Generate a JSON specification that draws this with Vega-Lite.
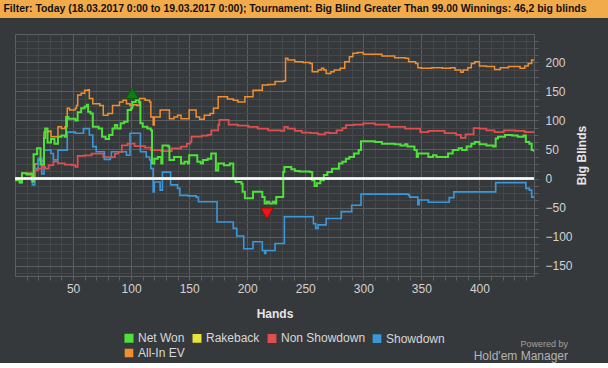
{
  "$schema": "https://vega.github.io/schema/vega-lite/v6.json",
  "background": "#36393c",
  "padding": 0,
  "spacing": 15,
  "config": {"font": "Liberation Sans", "view": {"stroke": null}},
  "vconcat": [
    {
      "width": 608,
      "height": 18,
      "view": {"fill": "#f1ab4b", "stroke": null},
      "data": {"values": [{"t": "Filter: Today (18.03.2017 0:00 to 19.03.2017 0:00); Tournament: Big Blind Greater Than 99.00 Winnings: 46,2 big blinds"}]},
      "mark": {"type": "text", "font": "Liberation Sans", "fontSize": 10.45, "fontWeight": "bold", "color": "#111111", "align": "center", "baseline": "middle", "dx": -9},
      "encoding": {"text": {"field": "t"}}
    },
    {
      "spacing": 12,
      "hconcat": [
        {
          "width": 1,
          "height": 1,
          "data": {"values": []},
          "mark": "point"
        },
        {
          "width": 519,
          "height": 242,
          "view": {"stroke": "#5d6063", "strokeWidth": 1},
          "title": {"text": "Powered by", "subtitle": "Hold'em Manager", "orient": "bottom", "anchor": "end", "frame": "group", "fontSize": 9, "fontWeight": "normal", "color": "#a0a0a0", "subtitleFontSize": 12, "subtitleColor": "#b4b4b4", "subtitlePadding": 2, "offset": 21, "dx": 34},
          "layer": [
            {
              "data": {"values": [
                {"h": 0, "v": 0, "s": "Rakeback"}, {"h": 447, "v": 0, "s": "Rakeback"},
                {"h": 0, "v": 0, "s": "All-In EV"}, {"h": 1, "v": -3, "s": "All-In EV"}, {"h": 4, "v": -7, "s": "All-In EV"}, {"h": 6, "v": 9, "s": "All-In EV"}, {"h": 14, "v": 8, "s": "All-In EV"}, {"h": 15, "v": -5, "s": "All-In EV"}, {"h": 17, "v": 25, "s": "All-In EV"}, {"h": 20, "v": 32, "s": "All-In EV"}, {"h": 23, "v": 30, "s": "All-In EV"}, {"h": 25, "v": 80, "s": "All-In EV"}, {"h": 29, "v": 82, "s": "All-In EV"}, {"h": 31, "v": 72, "s": "All-In EV"}, {"h": 37, "v": 89, "s": "All-In EV"}, {"h": 40, "v": 86, "s": "All-In EV"}, {"h": 43, "v": 89, "s": "All-In EV"}, {"h": 45, "v": 121, "s": "All-In EV"}, {"h": 47, "v": 118, "s": "All-In EV"}, {"h": 52, "v": 121, "s": "All-In EV"}, {"h": 53, "v": 126, "s": "All-In EV"}, {"h": 54, "v": 144, "s": "All-In EV"}, {"h": 57, "v": 147, "s": "All-In EV"}, {"h": 60, "v": 152, "s": "All-In EV"}, {"h": 63, "v": 153, "s": "All-In EV"}, {"h": 64, "v": 138, "s": "All-In EV"}, {"h": 67, "v": 129, "s": "All-In EV"}, {"h": 73, "v": 126, "s": "All-In EV"}, {"h": 76, "v": 109, "s": "All-In EV"}, {"h": 80, "v": 112, "s": "All-In EV"}, {"h": 84, "v": 126, "s": "All-In EV"}, {"h": 90, "v": 132, "s": "All-In EV"}, {"h": 93, "v": 135, "s": "All-In EV"}, {"h": 96, "v": 129, "s": "All-In EV"}, {"h": 99, "v": 126, "s": "All-In EV"}, {"h": 102, "v": 127, "s": "All-In EV"}, {"h": 105, "v": 126, "s": "All-In EV"}, {"h": 107, "v": 138, "s": "All-In EV"}, {"h": 112, "v": 135, "s": "All-In EV"}, {"h": 116, "v": 132, "s": "All-In EV"}, {"h": 117, "v": 106, "s": "All-In EV"}, {"h": 119, "v": 92, "s": "All-In EV"}, {"h": 120, "v": 106, "s": "All-In EV"}, {"h": 125, "v": 118, "s": "All-In EV"}, {"h": 129, "v": 118, "s": "All-In EV"}, {"h": 133, "v": 103, "s": "All-In EV"}, {"h": 137, "v": 106, "s": "All-In EV"}, {"h": 140, "v": 109, "s": "All-In EV"}, {"h": 143, "v": 103, "s": "All-In EV"}, {"h": 149, "v": 103, "s": "All-In EV"}, {"h": 150, "v": 118, "s": "All-In EV"}, {"h": 156, "v": 106, "s": "All-In EV"}, {"h": 159, "v": 102, "s": "All-In EV"}, {"h": 163, "v": 109, "s": "All-In EV"}, {"h": 168, "v": 112, "s": "All-In EV"}, {"h": 171, "v": 121, "s": "All-In EV"}, {"h": 175, "v": 141, "s": "All-In EV"}, {"h": 183, "v": 137, "s": "All-In EV"}, {"h": 188, "v": 135, "s": "All-In EV"}, {"h": 192, "v": 132, "s": "All-In EV"}, {"h": 198, "v": 141, "s": "All-In EV"}, {"h": 205, "v": 152, "s": "All-In EV"}, {"h": 213, "v": 161, "s": "All-In EV"}, {"h": 218, "v": 162, "s": "All-In EV"}, {"h": 224, "v": 167, "s": "All-In EV"}, {"h": 231, "v": 168, "s": "All-In EV"}, {"h": 233, "v": 207, "s": "All-In EV"}, {"h": 235, "v": 204, "s": "All-In EV"}, {"h": 241, "v": 201, "s": "All-In EV"}, {"h": 248, "v": 200, "s": "All-In EV"}, {"h": 254, "v": 198, "s": "All-In EV"}, {"h": 256, "v": 184, "s": "All-In EV"}, {"h": 261, "v": 187, "s": "All-In EV"}, {"h": 264, "v": 190, "s": "All-In EV"}, {"h": 266, "v": 187, "s": "All-In EV"}, {"h": 268, "v": 181, "s": "All-In EV"}, {"h": 272, "v": 184, "s": "All-In EV"}, {"h": 275, "v": 187, "s": "All-In EV"}, {"h": 280, "v": 190, "s": "All-In EV"}, {"h": 284, "v": 201, "s": "All-In EV"}, {"h": 288, "v": 210, "s": "All-In EV"}, {"h": 291, "v": 216, "s": "All-In EV"}, {"h": 295, "v": 217, "s": "All-In EV"}, {"h": 300, "v": 214, "s": "All-In EV"}, {"h": 313, "v": 214, "s": "All-In EV"}, {"h": 316, "v": 211, "s": "All-In EV"}, {"h": 327, "v": 208, "s": "All-In EV"}, {"h": 336, "v": 207, "s": "All-In EV"}, {"h": 339, "v": 201, "s": "All-In EV"}, {"h": 345, "v": 198, "s": "All-In EV"}, {"h": 347, "v": 191, "s": "All-In EV"}, {"h": 350, "v": 190, "s": "All-In EV"}, {"h": 359, "v": 191, "s": "All-In EV"}, {"h": 368, "v": 190, "s": "All-In EV"}, {"h": 375, "v": 191, "s": "All-In EV"}, {"h": 379, "v": 187, "s": "All-In EV"}, {"h": 384, "v": 183, "s": "All-In EV"}, {"h": 386, "v": 187, "s": "All-In EV"}, {"h": 390, "v": 191, "s": "All-In EV"}, {"h": 393, "v": 198, "s": "All-In EV"}, {"h": 396, "v": 201, "s": "All-In EV"}, {"h": 400, "v": 194, "s": "All-In EV"}, {"h": 406, "v": 193, "s": "All-In EV"}, {"h": 413, "v": 188, "s": "All-In EV"}, {"h": 418, "v": 191, "s": "All-In EV"}, {"h": 425, "v": 193, "s": "All-In EV"}, {"h": 435, "v": 190, "s": "All-In EV"}, {"h": 439, "v": 194, "s": "All-In EV"}, {"h": 442, "v": 198, "s": "All-In EV"}, {"h": 445, "v": 204, "s": "All-In EV"}, {"h": 447, "v": 204, "s": "All-In EV"},
                {"h": 0, "v": 0, "s": "Showdown"}, {"h": 14, "v": -3, "s": "Showdown"}, {"h": 15, "v": -11, "s": "Showdown"}, {"h": 17, "v": 17, "s": "Showdown"}, {"h": 20, "v": 35, "s": "Showdown"}, {"h": 23, "v": 8, "s": "Showdown"}, {"h": 25, "v": 49, "s": "Showdown"}, {"h": 31, "v": 43, "s": "Showdown"}, {"h": 33, "v": 32, "s": "Showdown"}, {"h": 37, "v": 49, "s": "Showdown"}, {"h": 45, "v": 80, "s": "Showdown"}, {"h": 52, "v": 78, "s": "Showdown"}, {"h": 59, "v": 86, "s": "Showdown"}, {"h": 64, "v": 75, "s": "Showdown"}, {"h": 67, "v": 55, "s": "Showdown"}, {"h": 70, "v": 46, "s": "Showdown"}, {"h": 77, "v": 33, "s": "Showdown"}, {"h": 82, "v": 36, "s": "Showdown"}, {"h": 83, "v": 46, "s": "Showdown"}, {"h": 96, "v": 40, "s": "Showdown"}, {"h": 99, "v": 78, "s": "Showdown"}, {"h": 107, "v": 78, "s": "Showdown"}, {"h": 108, "v": 46, "s": "Showdown"}, {"h": 113, "v": 37, "s": "Showdown"}, {"h": 116, "v": 32, "s": "Showdown"}, {"h": 117, "v": 17, "s": "Showdown"}, {"h": 119, "v": -23, "s": "Showdown"}, {"h": 120, "v": -6, "s": "Showdown"}, {"h": 125, "v": -20, "s": "Showdown"}, {"h": 127, "v": 11, "s": "Showdown"}, {"h": 134, "v": -11, "s": "Showdown"}, {"h": 140, "v": -17, "s": "Showdown"}, {"h": 142, "v": -29, "s": "Showdown"}, {"h": 149, "v": -30, "s": "Showdown"}, {"h": 156, "v": -32, "s": "Showdown"}, {"h": 158, "v": -40, "s": "Showdown"}, {"h": 173, "v": -40, "s": "Showdown"}, {"h": 174, "v": -75, "s": "Showdown"}, {"h": 186, "v": -75, "s": "Showdown"}, {"h": 188, "v": -86, "s": "Showdown"}, {"h": 191, "v": -99, "s": "Showdown"}, {"h": 197, "v": -121, "s": "Showdown"}, {"h": 205, "v": -109, "s": "Showdown"}, {"h": 213, "v": -124, "s": "Showdown"}, {"h": 215, "v": -129, "s": "Showdown"}, {"h": 216, "v": -124, "s": "Showdown"}, {"h": 224, "v": -112, "s": "Showdown"}, {"h": 232, "v": -66, "s": "Showdown"}, {"h": 255, "v": -66, "s": "Showdown"}, {"h": 257, "v": -78, "s": "Showdown"}, {"h": 259, "v": -86, "s": "Showdown"}, {"h": 261, "v": -80, "s": "Showdown"}, {"h": 268, "v": -69, "s": "Showdown"}, {"h": 281, "v": -57, "s": "Showdown"}, {"h": 290, "v": -46, "s": "Showdown"}, {"h": 298, "v": -27, "s": "Showdown"}, {"h": 339, "v": -29, "s": "Showdown"}, {"h": 340, "v": -32, "s": "Showdown"}, {"h": 347, "v": -45, "s": "Showdown"}, {"h": 348, "v": -37, "s": "Showdown"}, {"h": 356, "v": -41, "s": "Showdown"}, {"h": 374, "v": -33, "s": "Showdown"}, {"h": 378, "v": -23, "s": "Showdown"}, {"h": 414, "v": -7, "s": "Showdown"}, {"h": 440, "v": -17, "s": "Showdown"}, {"h": 443, "v": -20, "s": "Showdown"}, {"h": 445, "v": -32, "s": "Showdown"}, {"h": 447, "v": -32, "s": "Showdown"},
                {"h": 0, "v": 0, "s": "Non Showdown"}, {"h": 14, "v": 3, "s": "Non Showdown"}, {"h": 17, "v": 14, "s": "Non Showdown"}, {"h": 20, "v": 17, "s": "Non Showdown"}, {"h": 23, "v": 20, "s": "Non Showdown"}, {"h": 26, "v": 17, "s": "Non Showdown"}, {"h": 29, "v": 23, "s": "Non Showdown"}, {"h": 33, "v": 29, "s": "Non Showdown"}, {"h": 37, "v": 26, "s": "Non Showdown"}, {"h": 43, "v": 24, "s": "Non Showdown"}, {"h": 49, "v": 23, "s": "Non Showdown"}, {"h": 52, "v": 20, "s": "Non Showdown"}, {"h": 54, "v": 39, "s": "Non Showdown"}, {"h": 60, "v": 40, "s": "Non Showdown"}, {"h": 66, "v": 43, "s": "Non Showdown"}, {"h": 75, "v": 43, "s": "Non Showdown"}, {"h": 76, "v": 37, "s": "Non Showdown"}, {"h": 85, "v": 37, "s": "Non Showdown"}, {"h": 86, "v": 43, "s": "Non Showdown"}, {"h": 89, "v": 46, "s": "Non Showdown"}, {"h": 92, "v": 57, "s": "Non Showdown"}, {"h": 97, "v": 60, "s": "Non Showdown"}, {"h": 103, "v": 56, "s": "Non Showdown"}, {"h": 112, "v": 53, "s": "Non Showdown"}, {"h": 117, "v": 49, "s": "Non Showdown"}, {"h": 126, "v": 47, "s": "Non Showdown"}, {"h": 135, "v": 52, "s": "Non Showdown"}, {"h": 143, "v": 55, "s": "Non Showdown"}, {"h": 148, "v": 60, "s": "Non Showdown"}, {"h": 151, "v": 63, "s": "Non Showdown"}, {"h": 152, "v": 72, "s": "Non Showdown"}, {"h": 161, "v": 74, "s": "Non Showdown"}, {"h": 166, "v": 75, "s": "Non Showdown"}, {"h": 169, "v": 83, "s": "Non Showdown"}, {"h": 175, "v": 92, "s": "Non Showdown"}, {"h": 176, "v": 101, "s": "Non Showdown"}, {"h": 180, "v": 101, "s": "Non Showdown"}, {"h": 184, "v": 93, "s": "Non Showdown"}, {"h": 192, "v": 91, "s": "Non Showdown"}, {"h": 201, "v": 89, "s": "Non Showdown"}, {"h": 209, "v": 86, "s": "Non Showdown"}, {"h": 218, "v": 83, "s": "Non Showdown"}, {"h": 229, "v": 82, "s": "Non Showdown"}, {"h": 232, "v": 89, "s": "Non Showdown"}, {"h": 235, "v": 86, "s": "Non Showdown"}, {"h": 241, "v": 82, "s": "Non Showdown"}, {"h": 247, "v": 79, "s": "Non Showdown"}, {"h": 255, "v": 78, "s": "Non Showdown"}, {"h": 261, "v": 76, "s": "Non Showdown"}, {"h": 267, "v": 79, "s": "Non Showdown"}, {"h": 271, "v": 78, "s": "Non Showdown"}, {"h": 277, "v": 83, "s": "Non Showdown"}, {"h": 282, "v": 87, "s": "Non Showdown"}, {"h": 285, "v": 92, "s": "Non Showdown"}, {"h": 292, "v": 93, "s": "Non Showdown"}, {"h": 300, "v": 95, "s": "Non Showdown"}, {"h": 310, "v": 93, "s": "Non Showdown"}, {"h": 322, "v": 89, "s": "Non Showdown"}, {"h": 336, "v": 86, "s": "Non Showdown"}, {"h": 349, "v": 80, "s": "Non Showdown"}, {"h": 356, "v": 82, "s": "Non Showdown"}, {"h": 370, "v": 78, "s": "Non Showdown"}, {"h": 380, "v": 75, "s": "Non Showdown"}, {"h": 384, "v": 70, "s": "Non Showdown"}, {"h": 388, "v": 76, "s": "Non Showdown"}, {"h": 395, "v": 87, "s": "Non Showdown"}, {"h": 400, "v": 86, "s": "Non Showdown"}, {"h": 406, "v": 83, "s": "Non Showdown"}, {"h": 413, "v": 80, "s": "Non Showdown"}, {"h": 421, "v": 83, "s": "Non Showdown"}, {"h": 431, "v": 82, "s": "Non Showdown"}, {"h": 439, "v": 80, "s": "Non Showdown"}, {"h": 447, "v": 80, "s": "Non Showdown"},
                {"h": 0, "v": 0, "s": "Net Won"}, {"h": 1, "v": -3, "s": "Net Won"}, {"h": 4, "v": -7, "s": "Net Won"}, {"h": 6, "v": 9, "s": "Net Won"}, {"h": 10, "v": 7, "s": "Net Won"}, {"h": 14, "v": 8, "s": "Net Won"}, {"h": 15, "v": -5, "s": "Net Won"}, {"h": 16, "v": 42, "s": "Net Won"}, {"h": 19, "v": 52, "s": "Net Won"}, {"h": 22, "v": 24, "s": "Net Won"}, {"h": 25, "v": 70, "s": "Net Won"}, {"h": 26, "v": 86, "s": "Net Won"}, {"h": 28, "v": 62, "s": "Net Won"}, {"h": 31, "v": 68, "s": "Net Won"}, {"h": 34, "v": 60, "s": "Net Won"}, {"h": 37, "v": 72, "s": "Net Won"}, {"h": 40, "v": 74, "s": "Net Won"}, {"h": 43, "v": 72, "s": "Net Won"}, {"h": 44, "v": 106, "s": "Net Won"}, {"h": 46, "v": 103, "s": "Net Won"}, {"h": 52, "v": 100, "s": "Net Won"}, {"h": 54, "v": 114, "s": "Net Won"}, {"h": 57, "v": 121, "s": "Net Won"}, {"h": 60, "v": 124, "s": "Net Won"}, {"h": 62, "v": 127, "s": "Net Won"}, {"h": 63, "v": 115, "s": "Net Won"}, {"h": 65, "v": 112, "s": "Net Won"}, {"h": 67, "v": 89, "s": "Net Won"}, {"h": 72, "v": 86, "s": "Net Won"}, {"h": 75, "v": 72, "s": "Net Won"}, {"h": 78, "v": 68, "s": "Net Won"}, {"h": 81, "v": 75, "s": "Net Won"}, {"h": 84, "v": 86, "s": "Net Won"}, {"h": 86, "v": 92, "s": "Net Won"}, {"h": 88, "v": 86, "s": "Net Won"}, {"h": 91, "v": 95, "s": "Net Won"}, {"h": 94, "v": 98, "s": "Net Won"}, {"h": 97, "v": 118, "s": "Net Won"}, {"h": 100, "v": 121, "s": "Net Won"}, {"h": 101, "v": 132, "s": "Net Won"}, {"h": 104, "v": 135, "s": "Net Won"}, {"h": 107, "v": 132, "s": "Net Won"}, {"h": 108, "v": 95, "s": "Net Won"}, {"h": 110, "v": 89, "s": "Net Won"}, {"h": 114, "v": 86, "s": "Net Won"}, {"h": 117, "v": 83, "s": "Net Won"}, {"h": 118, "v": 26, "s": "Net Won"}, {"h": 120, "v": 34, "s": "Net Won"}, {"h": 123, "v": 37, "s": "Net Won"}, {"h": 126, "v": 26, "s": "Net Won"}, {"h": 127, "v": 57, "s": "Net Won"}, {"h": 132, "v": 55, "s": "Net Won"}, {"h": 133, "v": 32, "s": "Net Won"}, {"h": 137, "v": 37, "s": "Net Won"}, {"h": 143, "v": 26, "s": "Net Won"}, {"h": 146, "v": 29, "s": "Net Won"}, {"h": 149, "v": 26, "s": "Net Won"}, {"h": 150, "v": 40, "s": "Net Won"}, {"h": 157, "v": 29, "s": "Net Won"}, {"h": 160, "v": 26, "s": "Net Won"}, {"h": 162, "v": 32, "s": "Net Won"}, {"h": 166, "v": 34, "s": "Net Won"}, {"h": 169, "v": 43, "s": "Net Won"}, {"h": 172, "v": 43, "s": "Net Won"}, {"h": 173, "v": 14, "s": "Net Won"}, {"h": 175, "v": 26, "s": "Net Won"}, {"h": 180, "v": 23, "s": "Net Won"}, {"h": 185, "v": 26, "s": "Net Won"}, {"h": 188, "v": 0, "s": "Net Won"}, {"h": 190, "v": -6, "s": "Net Won"}, {"h": 195, "v": -9, "s": "Net Won"}, {"h": 196, "v": -23, "s": "Net Won"}, {"h": 198, "v": -34, "s": "Net Won"}, {"h": 202, "v": -34, "s": "Net Won"}, {"h": 205, "v": -23, "s": "Net Won"}, {"h": 211, "v": -23, "s": "Net Won"}, {"h": 213, "v": -32, "s": "Net Won"}, {"h": 215, "v": -43, "s": "Net Won"}, {"h": 217, "v": -40, "s": "Net Won"}, {"h": 219, "v": -43, "s": "Net Won"}, {"h": 222, "v": -40, "s": "Net Won"}, {"h": 224, "v": -43, "s": "Net Won"}, {"h": 225, "v": -32, "s": "Net Won"}, {"h": 229, "v": -32, "s": "Net Won"}, {"h": 231, "v": 11, "s": "Net Won"}, {"h": 232, "v": 20, "s": "Net Won"}, {"h": 238, "v": 16, "s": "Net Won"}, {"h": 241, "v": 13, "s": "Net Won"}, {"h": 245, "v": 12, "s": "Net Won"}, {"h": 254, "v": 11, "s": "Net Won"}, {"h": 256, "v": -3, "s": "Net Won"}, {"h": 258, "v": -13, "s": "Net Won"}, {"h": 260, "v": -8, "s": "Net Won"}, {"h": 263, "v": -3, "s": "Net Won"}, {"h": 266, "v": 6, "s": "Net Won"}, {"h": 269, "v": 11, "s": "Net Won"}, {"h": 273, "v": 17, "s": "Net Won"}, {"h": 279, "v": 26, "s": "Net Won"}, {"h": 282, "v": 29, "s": "Net Won"}, {"h": 285, "v": 34, "s": "Net Won"}, {"h": 288, "v": 37, "s": "Net Won"}, {"h": 292, "v": 43, "s": "Net Won"}, {"h": 296, "v": 49, "s": "Net Won"}, {"h": 298, "v": 64, "s": "Net Won"}, {"h": 310, "v": 63, "s": "Net Won"}, {"h": 316, "v": 60, "s": "Net Won"}, {"h": 327, "v": 59, "s": "Net Won"}, {"h": 332, "v": 57, "s": "Net Won"}, {"h": 336, "v": 59, "s": "Net Won"}, {"h": 338, "v": 55, "s": "Net Won"}, {"h": 344, "v": 49, "s": "Net Won"}, {"h": 346, "v": 37, "s": "Net Won"}, {"h": 347, "v": 43, "s": "Net Won"}, {"h": 353, "v": 43, "s": "Net Won"}, {"h": 356, "v": 37, "s": "Net Won"}, {"h": 360, "v": 40, "s": "Net Won"}, {"h": 363, "v": 37, "s": "Net Won"}, {"h": 373, "v": 43, "s": "Net Won"}, {"h": 377, "v": 49, "s": "Net Won"}, {"h": 382, "v": 52, "s": "Net Won"}, {"h": 385, "v": 49, "s": "Net Won"}, {"h": 389, "v": 55, "s": "Net Won"}, {"h": 393, "v": 60, "s": "Net Won"}, {"h": 396, "v": 63, "s": "Net Won"}, {"h": 400, "v": 59, "s": "Net Won"}, {"h": 406, "v": 57, "s": "Net Won"}, {"h": 412, "v": 55, "s": "Net Won"}, {"h": 414, "v": 69, "s": "Net Won"}, {"h": 416, "v": 72, "s": "Net Won"}, {"h": 422, "v": 75, "s": "Net Won"}, {"h": 428, "v": 74, "s": "Net Won"}, {"h": 433, "v": 72, "s": "Net Won"}, {"h": 438, "v": 74, "s": "Net Won"}, {"h": 440, "v": 63, "s": "Net Won"}, {"h": 443, "v": 60, "s": "Net Won"}, {"h": 445, "v": 49, "s": "Net Won"}, {"h": 447, "v": 46, "s": "Net Won"}
              ]},
              "mark": {"type": "line", "interpolate": "step-after", "clip": true},
              "encoding": {
                "x": {"field": "h", "type": "quantitative", "scale": {"domain": [0, 447], "nice": false, "zero": false},
                  "axis": {"values": [10,20,30,40,50,60,70,80,90,100,110,120,130,140,150,160,170,180,190,200,210,220,230,240,250,260,270,280,290,300,310,320,330,340,350,360,370,380,390,400,410,420,430,440],
                    "tickCount": 200, "format": "d", "labelExpr": "datum.value % 50 === 0 ? datum.label : ''", "labelOverlap": false, "labelFlush": false,
                    "labelColor": "#d2d2d2", "labelFontSize": 12, "labelPadding": 3, "domain": false, "tickColor": "#5d6063", "tickSize": 4,
                    "gridColor": {"condition": {"test": "datum.value % 50 === 0", "value": "#5b5e61"}, "value": "#45484b"},
                    "title": "Hands", "titleColor": "#e6e6e6", "titleFontSize": 12, "titleFontWeight": "bold", "titlePadding": 14}},
                "y": {"field": "v", "type": "quantitative", "scale": {"domain": [-168, 249], "nice": false, "zero": false},
                  "axis": {"orient": "right", "values": [-162.5,-150,-137.5,-125,-112.5,-100,-87.5,-75,-62.5,-50,-37.5,-25,-12.5,0,12.5,25,37.5,50,62.5,75,87.5,100,112.5,125,137.5,150,162.5,175,187.5,200,212.5,225,237.5],
                    "tickCount": 200, "labelExpr": "datum.value % 50 === 0 ? datum.label : ''", "labelOverlap": false, "labelFlush": false,
                    "labelColor": "#d2d2d2", "labelFontSize": 12, "labelPadding": 7, "domain": false, "tickColor": "#5d6063", "tickSize": 4,
                    "gridColor": {"condition": {"test": "datum.value % 50 === 0", "value": "#5b5e61"}, "value": "#45484b"},
                    "title": "Big Blinds", "titleColor": "#e6e6e6", "titleFontSize": 12, "titleFontWeight": "bold", "titleAngle": 270, "titlePadding": 16}},
                "color": {"field": "s", "type": "nominal",
                  "scale": {"domain": ["Net Won", "Rakeback", "Non Showdown", "Showdown", "All-In EV"], "range": ["#4fe03a", "#e8e23a", "#e04f4f", "#3a98d8", "#ef8f2f"]},
                  "legend": {"orient": "none", "legendX": 123, "legendY": 332, "direction": "horizontal", "columns": 4, "title": null,
                    "symbolType": "square", "symbolSize": 50, "labelColor": "#d8d8d8", "labelFontSize": 12, "labelOffset": 3, "columnPadding": 4, "rowPadding": 0, "padding": 0,
                    "encode": {"symbols": {"update": {"fill": {"scale": "color", "field": "value"}, "stroke": {"value": "transparent"}, "strokeWidth": {"value": 0}}}}},
                  "sort": null},
                "strokeWidth": {"field": "s", "type": "nominal", "scale": {"domain": ["Net Won", "Rakeback", "Non Showdown", "Showdown", "All-In EV"], "range": [2, 1.5, 1.5, 1.5, 1.5]}, "legend": null}
              }
            },
            {
              "data": {"values": [{"v": 0}]},
              "mark": {"type": "rule", "color": "#ffffff", "strokeWidth": 2.5},
              "encoding": {"y": {"field": "v", "type": "quantitative"}}
            },
            {
              "data": {"values": [{"h": 101, "v": 147, "k": "max"}]},
              "mark": {"type": "point", "shape": "triangle-up", "filled": true, "size": 160, "color": "#0f7d12", "stroke": "#0a5a0c", "strokeWidth": 1, "opacity": 1},
              "encoding": {"x": {"field": "h", "type": "quantitative"}, "y": {"field": "v", "type": "quantitative"}}
            },
            {
              "data": {"values": [{"h": 217, "v": -60, "k": "min"}]},
              "mark": {"type": "point", "shape": "triangle-down", "filled": true, "size": 160, "color": "#ee1515", "stroke": "#a00c0c", "strokeWidth": 1, "opacity": 1},
              "encoding": {"x": {"field": "h", "type": "quantitative"}, "y": {"field": "v", "type": "quantitative"}}
            }
          ]
        }
      ]
    }
  ]
}
